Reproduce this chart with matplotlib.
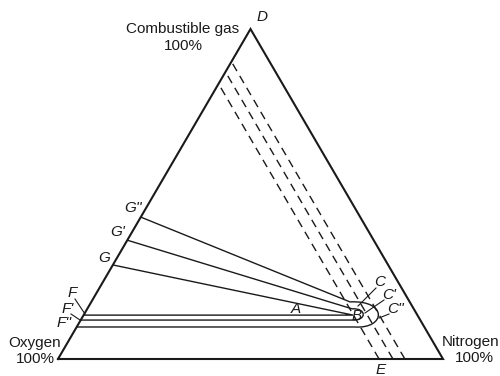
import numpy as np
import matplotlib
matplotlib.use('Agg')
import matplotlib.pyplot as plt
from matplotlib.path import Path
from matplotlib.patches import PathPatch

plt.rcParams['font.family'] = ['Liberation Sans', 'DejaVu Sans']

# constant-oxygen lines (dashed), fraction of oxygen
oxygen_const = [0.166, 0.130, 0.099]

# flammability envelopes: gas / nitrogen fractions of each vertex
# order: point on oxygen-gas side, nose top, 2 bezier handles, nose bottom, point on oxygen-gas side
env_gas = [
    [0.285, 0.133, 0.133, 0.133, 0.133, 0.133],
    [0.360, 0.152, 0.155, 0.115, 0.118, 0.118],
    [0.430, 0.173, 0.179, 0.091, 0.097, 0.097],
]
env_nitro = [
    [0.0, 0.700, 0.700, 0.700, 0.700, 0.0],
    [0.0, 0.688, 0.725, 0.745, 0.705, 0.0],
    [0.0, 0.672, 0.768, 0.806, 0.723, 0.0],
]


def tern(gas, nitro):
    gas = np.asarray(gas, dtype=float)
    nitro = np.asarray(nitro, dtype=float)
    return nitro + gas / 2.0, gas


def px(x, y):
    # pixel position -> axes data, for placing labels
    return (x - 58) / 385.0, (359 - y) / 330.0


fig = plt.figure(figsize=(5, 3.76), dpi=100)
ax = fig.add_axes([58 / 500, 17 / 376, 385 / 500, 330 / 376])
ax.set_xlim(0, 1)
ax.set_ylim(0, 1)
ax.axis('off')

ink = '#1a1a1a'

# triangle: oxygen, nitrogen, combustible gas corners
tx, ty = tern([0, 0, 1, 0], [0, 1, 0, 0])
ax.plot(tx, ty, color=ink, lw=1.5, solid_joinstyle='miter', clip_on=False)

for ox in oxygen_const:
    lx, ly = tern([0, 1 - ox], [1 - ox, 0])
    ax.plot(lx, ly, color=ink, lw=1.0, linestyle=(0, (6, 4)), clip_on=False)

codes = [Path.MOVETO, Path.LINETO, Path.CURVE4, Path.CURVE4, Path.CURVE4, Path.LINETO]
for g, n in zip(env_gas, env_nitro):
    ex, ey = tern(g, n)
    path = Path(np.column_stack([ex, ey]), codes)
    ax.add_patch(PathPatch(path, facecolor='none', edgecolor=ink, lw=1.0, clip_on=False))

fs = 11
lab = dict(fontsize=fs, color=ink, ha='center', va='center')
ax.text(*px(183, 29), 'Combustible gas', **lab)
ax.text(*px(183, 46), '100%', **lab)
ax.text(*px(35, 343), 'Oxygen', **lab)
ax.text(*px(35, 359), '100%', **lab)
ax.text(*px(471, 342), 'Nitrogen', **lab)
ax.text(*px(474, 358), '100%', **lab)

ital = dict(fontsize=fs, color=ink, ha='center', va='center', style='italic')
ax.text(*px(262, 17), 'D', **ital)
ax.text(*px(381, 370), 'E', **ital)
ax.text(*px(296, 309), 'A', **ital)
ax.text(*px(357, 316), 'B', **ital)
ax.text(*px(104, 258), 'G', **ital)
ax.text(*px(118, 232), "G'", **ital)
ax.text(*px(133, 208), "G''", **ital)
ax.text(*px(72, 293), 'F', **ital)
ax.text(*px(68, 309), "F'", **ital)
ax.text(*px(64, 323), "F''", **ital)
ax.text(*px(380, 282), 'C', **ital)
ax.text(*px(389, 295), "C'", **ital)
ax.text(*px(396, 309), "C''", **ital)

# leader lines
leaders = [((75, 299), (85, 314)), ((71, 314), (80, 320)),
           ((376, 288), (358, 306)), ((384, 300), (365, 313)), ((389, 314), (379, 318))]
for (x0, y0), (x1, y1) in leaders:
    a = px(x0, y0)
    b = px(x1, y1)
    ax.plot([a[0], b[0]], [a[1], b[1]], color=ink, lw=0.8, clip_on=False)

fig.savefig('out.png', dpi=100)
